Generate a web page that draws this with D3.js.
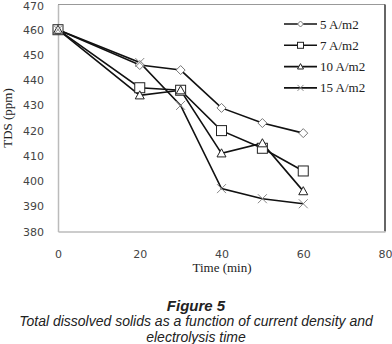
<!DOCTYPE html>
<html lang="en">
<head>
<meta charset="utf-8">
<script src="https://d3js.org/d3.v7.min.js"></script>
<style>
  body { margin: 0; background: #fff; }
  .tick text { font-family: "DejaVu Sans", Verdana, sans-serif; font-size: 11px; fill: #444; }
  .serif { font-family: "Liberation Serif", "Times New Roman", serif; font-size: 13px; fill: #222; }
  .caption { font-family: "Liberation Sans", Arial, sans-serif; font-style: italic; font-size: 14px; fill: #222; }
</style>
</head>
<body>
<script>
// data
var times = [0, 20, 30, 40, 50, 60];
var seriesNames = ["5 A/m2", "7 A/m2", "10 A/m2", "15 A/m2"];
var tds5 = [460, 446, 444, 429, 423, 419];
var tds7 = [460, 437, 436, 420, 413, 404];
var tds10 = [460, 434, 436, 411, 415, 396];
var tds15 = [460, 447, 430, 397, 393, 391];
var xTicks = [0, 20, 40, 60, 80];
var yTicks = [380, 390, 400, 410, 420, 430, 440, 450, 460, 470];

var width = 392, height = 344;
var svg = d3.select("body").append("svg")
    .attr("width", width)
    .attr("height", height);

var x = d3.scaleLinear().domain([0, 80]).range([58, 385]);
var y = d3.scaleLinear().domain([380, 470]).range([231.5, 4.5]);

// frame: top/right darker, left/bottom light
svg.append("line").attr("x1", x(0)).attr("x2", x(80)).attr("y1", y(470)).attr("y2", y(470))
    .attr("stroke", "#999").attr("stroke-width", 1);
svg.append("line").attr("x1", x(80)).attr("x2", x(80)).attr("y1", y(470)).attr("y2", y(380))
    .attr("stroke", "#333").attr("stroke-width", 1.5);

var xAxis = svg.append("g")
    .attr("transform", "translate(0," + y(380) + ")")
    .call(d3.axisBottom(x).tickValues(xTicks).tickSize(0).tickPadding(19));
var yAxis = svg.append("g")
    .attr("transform", "translate(" + x(0) + ",0)")
    .call(d3.axisLeft(y).tickValues(yTicks).tickSize(0).tickPadding(14));
xAxis.select(".domain").attr("stroke", "#bbb").attr("stroke-width", 1.5);
yAxis.select(".domain").attr("stroke", "#bbb").attr("stroke-width", 1.5);
// keep the top label inside the page
yAxis.selectAll(".tick text").filter(function(d) { return d == 470; }).attr("dy", "0.45em");

svg.append("text").attr("class", "serif")
    .attr("x", 222).attr("y", 272)
    .attr("text-anchor", "middle")
    .text("Time (min)");
svg.append("text").attr("class", "serif")
    .attr("transform", "translate(12,118) rotate(-90)")
    .attr("text-anchor", "middle")
    .text("TDS (ppm)");

var seriesValues = [tds5, tds7, tds10, tds15];
var markerTypes = ["diamond", "square", "triangle", "cross"];
var markerColors = ["#777", "#222", "#222", "#888"];

function marker(g, type, cx, cy, s, color) {
    var p;
    if (type == "diamond") {
        p = g.append("path").attr("d", "M" + cx + "," + (cy - s) + "L" + (cx + s) + "," + cy + "L" + cx + "," + (cy + s) + "L" + (cx - s) + "," + cy + "Z");
    } else if (type == "square") {
        p = g.append("rect").attr("x", cx - s).attr("y", cy - s).attr("width", 2 * s).attr("height", 2 * s);
    } else if (type == "triangle") {
        p = g.append("path").attr("d", "M" + cx + "," + (cy - s) + "L" + (cx + s) + "," + (cy + s * 0.8) + "L" + (cx - s) + "," + (cy + s * 0.8) + "Z");
    } else {
        p = g.append("path").attr("d", "M" + (cx - s) + "," + (cy - s) + "L" + (cx + s) + "," + (cy + s) + "M" + (cx + s) + "," + (cy - s) + "L" + (cx - s) + "," + (cy + s));
    }
    p.attr("fill", type == "cross" ? "none" : "#fff").attr("stroke", color).attr("stroke-width", 1);
}

var line = d3.line()
    .x(function(d, i) { return x(times[i]); })
    .y(function(d) { return y(d); });

seriesValues.forEach(function(vals, k) {
    svg.append("path")
        .attr("d", line(vals))
        .attr("fill", "none")
        .attr("stroke", "#111")
        .attr("stroke-width", 1.6);
});
seriesValues.forEach(function(vals, k) {
    var g = svg.append("g");
    vals.forEach(function(v, i) {
        marker(g, markerTypes[k], x(times[i]), y(v), k == 1 ? 5 : 4.5, markerColors[k]);
    });
});

// legend
var legend = svg.append("g");
seriesNames.forEach(function(name, k) {
    var ly = 24 + k * 21.3;
    legend.append("line").attr("x1", 284).attr("x2", 317).attr("y1", ly).attr("y2", ly)
        .attr("stroke", "#111").attr("stroke-width", 1.6);
    marker(legend, markerTypes[k], 300.5, ly, 3, markerColors[k]);
    legend.append("text").attr("class", "serif")
        .attr("x", 320).attr("y", ly + 4.5)
        .text(name);
});

// caption
var caption = ["Total dissolved solids as a function of current density and", "electrolysis time"];
svg.append("text").attr("class", "caption")
    .attr("x", width / 2).attr("y", 311)
    .attr("text-anchor", "middle")
    .style("font-weight", "bold")
    .style("font-size", "15px")
    .text("Figure 5");
caption.forEach(function(t, i) {
    svg.append("text").attr("class", "caption")
        .attr("x", width / 2).attr("y", 326 + i * 16)
        .attr("text-anchor", "middle")
        .text(t);
});
</script>
</body>
</html>
